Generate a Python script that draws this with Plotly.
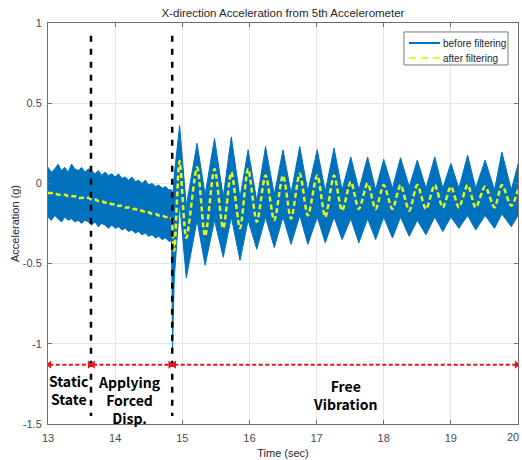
import plotly.graph_objects as go

# ---- acceleration record (g) ----
# static part: envelope of the raw signal and the filtered trace, every 0.05 s
static_t = [13.00, 13.05, 13.10, 13.15, 13.20, 13.25, 13.30, 13.35, 13.40, 13.45,
            13.50, 13.55, 13.60, 13.65, 13.70, 13.75, 13.80, 13.85, 13.90, 13.95,
            14.00, 14.05, 14.10, 14.15, 14.20, 14.25, 14.30, 14.35, 14.40, 14.45,
            14.50, 14.55, 14.60, 14.65, 14.70, 14.75, 14.80]
static_upper = [0.10, 0.07, 0.09, 0.12, 0.08, 0.10, 0.07, 0.12, 0.09, 0.08,
                0.10, 0.07, 0.09, 0.08, 0.06, 0.08, 0.05, 0.07, 0.05, 0.06,
                0.04, 0.06, 0.03, 0.04, 0.02, 0.04, 0.01, 0.02, 0.00, 0.02,
                -0.01, 0.00, -0.02, -0.01, -0.03, -0.02, -0.04]
static_lower = [-0.21, -0.23, -0.20, -0.22, -0.24, -0.21, -0.23, -0.22, -0.24, -0.23,
                -0.25, -0.23, -0.24, -0.26, -0.24, -0.27, -0.25, -0.26, -0.28, -0.26,
                -0.28, -0.27, -0.29, -0.28, -0.30, -0.29, -0.31, -0.30, -0.32, -0.31,
                -0.33, -0.32, -0.34, -0.33, -0.35, -0.34, -0.36]
static_filtered = [-0.06, -0.06, -0.06, -0.07, -0.07, -0.07, -0.08, -0.08, -0.08, -0.09,
                   -0.09, -0.09, -0.09, -0.10, -0.10, -0.11, -0.11, -0.12, -0.12, -0.13,
                   -0.13, -0.14, -0.14, -0.15, -0.15, -0.16, -0.16, -0.17, -0.17, -0.18,
                   -0.18, -0.19, -0.19, -0.20, -0.20, -0.21, -0.21]

# release and free vibration: values at each peak / trough
vib_t = [14.84, 14.855, 14.88, 14.96, 15.06, 15.22, 15.34, 15.48, 15.61, 15.73,
         15.86, 15.98, 16.11, 16.24, 16.37, 16.50, 16.62, 16.75, 16.87, 17.01,
         17.13, 17.26, 17.38, 17.51, 17.63, 17.76, 17.88, 18.00, 18.13, 18.25,
         18.38, 18.50, 18.63, 18.76, 18.88, 19.00, 19.12, 19.25, 19.37, 19.51,
         19.65, 19.76, 19.90, 20.00]
vib_upper = [-0.04, -0.10, 0.05, 0.36, -0.14, 0.25, -0.07, 0.28, -0.085, 0.29,
             -0.09, 0.21, -0.11, 0.23, -0.07, 0.21, -0.06, 0.23, -0.05, 0.21,
             -0.05, 0.22, -0.04, 0.165, -0.04, 0.165, -0.04, 0.15, -0.03, 0.16,
             -0.02, 0.145, -0.03, 0.165, -0.03, 0.125, -0.03, 0.175, -0.03, 0.145,
             -0.04, 0.195, -0.04, 0.12]
vib_lower = [-0.36, -1.03, -0.60, -0.12, -0.59, -0.23, -0.51, -0.23, -0.46, -0.21,
             -0.48, -0.23, -0.41, -0.21, -0.40, -0.21, -0.38, -0.20, -0.38, -0.21,
             -0.37, -0.21, -0.35, -0.22, -0.37, -0.22, -0.35, -0.21, -0.34, -0.21,
             -0.33, -0.23, -0.32, -0.21, -0.30, -0.21, -0.28, -0.20, -0.29, -0.20,
             -0.28, -0.19, -0.27, -0.20]
vib_filtered = [-0.22, -0.30, -0.42, 0.14, -0.34, 0.10, -0.33, 0.09, -0.28, 0.07,
                -0.28, 0.09, -0.24, 0.05, -0.23, 0.05, -0.22, 0.06, -0.20, 0.05,
                -0.21, 0.05, -0.17, 0.01, -0.16, 0.00, -0.16, -0.01, -0.16, -0.01,
                -0.17, -0.01, -0.16, -0.01, -0.15, -0.02, -0.15, -0.01, -0.15, -0.02,
                -0.15, -0.01, -0.14, -0.04]

# test phases
boundary_times = [13.64, 14.85]
boundary_top, boundary_bottom = 0.92, -1.45
arrow_starts = [13.02, 13.67, 14.88]
arrow_ends = [13.62, 14.82, 19.98]
arrow_level = -1.13
phase_labels = ["Static<br>State", "Applying<br>Forced<br>Disp.", "Free<br>Vibration"]
phase_label_x = [13.31, 14.22, 17.43]
phase_label_y = [-1.29, -1.35, -1.32]

x_ticks = [13, 14, 15, 16, 17, 18, 19, 20]
x_tick_text = ["13", "14", "15", "16", "17", "18", "19", "20"]
y_ticks = [-1.5, -1, -0.5, 0, 0.5, 1]
y_tick_text = ["-1.5", "-1", "-0.5", "0", "0.5", "1"]

series_names = ["before filtering", "after filtering"]

BLUE = "#0072BD"
YELLOW = "rgb(228,248,20)"
RED = "#E8141A"
FONT = "Liberation Sans, Arial, sans-serif"
TICK_FONT = dict(family=FONT, size=11, color="#4a4a4a")

raw_t = static_t + vib_t
raw_upper = static_upper + vib_upper
raw_lower = static_lower + vib_lower

fig = go.Figure()

# raw signal drawn as its band between upper and lower envelope
fig.add_trace(go.Scatter(
    x=raw_t + raw_t[::-1],
    y=raw_upper + raw_lower[::-1],
    fill="toself", fillcolor=BLUE, mode="lines",
    line=dict(color=BLUE, width=1),
    name=series_names[0], showlegend=False, hoverinfo="skip"))

fig.add_trace(go.Scatter(
    x=static_t + vib_t, y=static_filtered + vib_filtered,
    mode="lines", name=series_names[1], showlegend=False,
    line=dict(color=YELLOW, width=2.5, dash="5px,3px", shape="spline", smoothing=0.8)))

# phase boundaries
for bt in boundary_times:
    fig.add_trace(go.Scatter(
        x=[bt, bt], y=[boundary_top, boundary_bottom], mode="lines",
        line=dict(color="black", width=2.5, dash="6px,7px"),
        showlegend=False, hoverinfo="skip"))

# double-headed phase arrows
for a, b in zip(arrow_starts, arrow_ends):
    fig.add_trace(go.Scatter(
        x=[a, b], y=[arrow_level, arrow_level], mode="lines+markers",
        line=dict(color=RED, width=2, dash="4px,2.5px"),
        marker=dict(symbol=["triangle-left", "triangle-right"], size=7, color=RED),
        showlegend=False, hoverinfo="skip"))

for txt, px, py in zip(phase_labels, phase_label_x, phase_label_y):
    fig.add_annotation(x=px, y=py, text=f"<b>{txt}</b>", showarrow=False,
                       font=dict(family="Noto Sans CJK KR, Noto Sans, sans-serif",
                                 size=14, color="black"),
                       align="center", xanchor="center", yanchor="middle")

# legend box (paper coordinates)
lg_x0, lg_x1, lg_y0, lg_y1 = 0.7574, 0.9787, 0.8953, 0.9776
lg_rows = [0.9501, 0.9127]
lg_line_x0, lg_line_x1, lg_text_x = 0.7681, 0.8340, 0.8370
fig.add_shape(type="rect", xref="paper", yref="paper",
              x0=lg_x0, x1=lg_x1, y0=lg_y0, y1=lg_y1,
              line=dict(color="#7a7a7a", width=1), fillcolor="white", layer="above")
legend_styles = [dict(color=BLUE, width=2), dict(color=YELLOW, width=2, dash="7px,5px")]
for name, row, style in zip(series_names, lg_rows, legend_styles):
    fig.add_shape(type="line", xref="paper", yref="paper",
                  x0=lg_line_x0, x1=lg_line_x1, y0=row, y1=row, line=style, layer="above")
    fig.add_annotation(xref="paper", yref="paper", x=lg_text_x, y=row, text=name,
                       showarrow=False, xanchor="left", yanchor="middle",
                       font=dict(family=FONT, size=10, color="#262626"))

# the last time label sits flush with the right edge of the figure
fig.add_annotation(x=x_ticks[-1], y=-0.032, xref="x", yref="paper",
                   text=x_tick_text[-1], showarrow=False,
                   xanchor="right", yanchor="middle", xshift=3, font=TICK_FONT)

axis_common = dict(showline=True, linecolor="#6e6e6e", linewidth=1, mirror="ticks",
                   ticks="inside", ticklen=4, tickcolor="#6e6e6e",
                   showgrid=True, gridcolor="#e6e6e6", gridwidth=1, zeroline=False,
                   tickfont=TICK_FONT)

fig.update_xaxes(range=[13, 20], tickvals=x_ticks,
                 ticktext=x_tick_text[:-1] + [""], ticklabelstandoff=4,
                 title=dict(text="Time (sec)", font=dict(family=FONT, size=11, color="#262626"),
                            standoff=6),
                 **axis_common)
fig.update_yaxes(range=[-1.5, 1], tickvals=y_ticks, ticktext=y_tick_text,
                 ticklabelstandoff=3,
                 title=dict(text="Acceleration (g)", font=dict(family=FONT, size=11, color="#262626"),
                            standoff=0),
                 **axis_common)

fig.update_layout(
    width=522, height=460,
    margin=dict(l=48, r=4, t=23, b=36, autoexpand=False),
    plot_bgcolor="white", paper_bgcolor="white",
    title=dict(text="X-direction Acceleration from 5th Accelerometer",
               font=dict(family=FONT, size=11.5, color="#262626"),
               x=283 / 522, xanchor="center", y=1 - 13 / 460, yanchor="middle",
               xref="container", yref="container"),
    showlegend=False,
)

fig.write_html("out.html")
